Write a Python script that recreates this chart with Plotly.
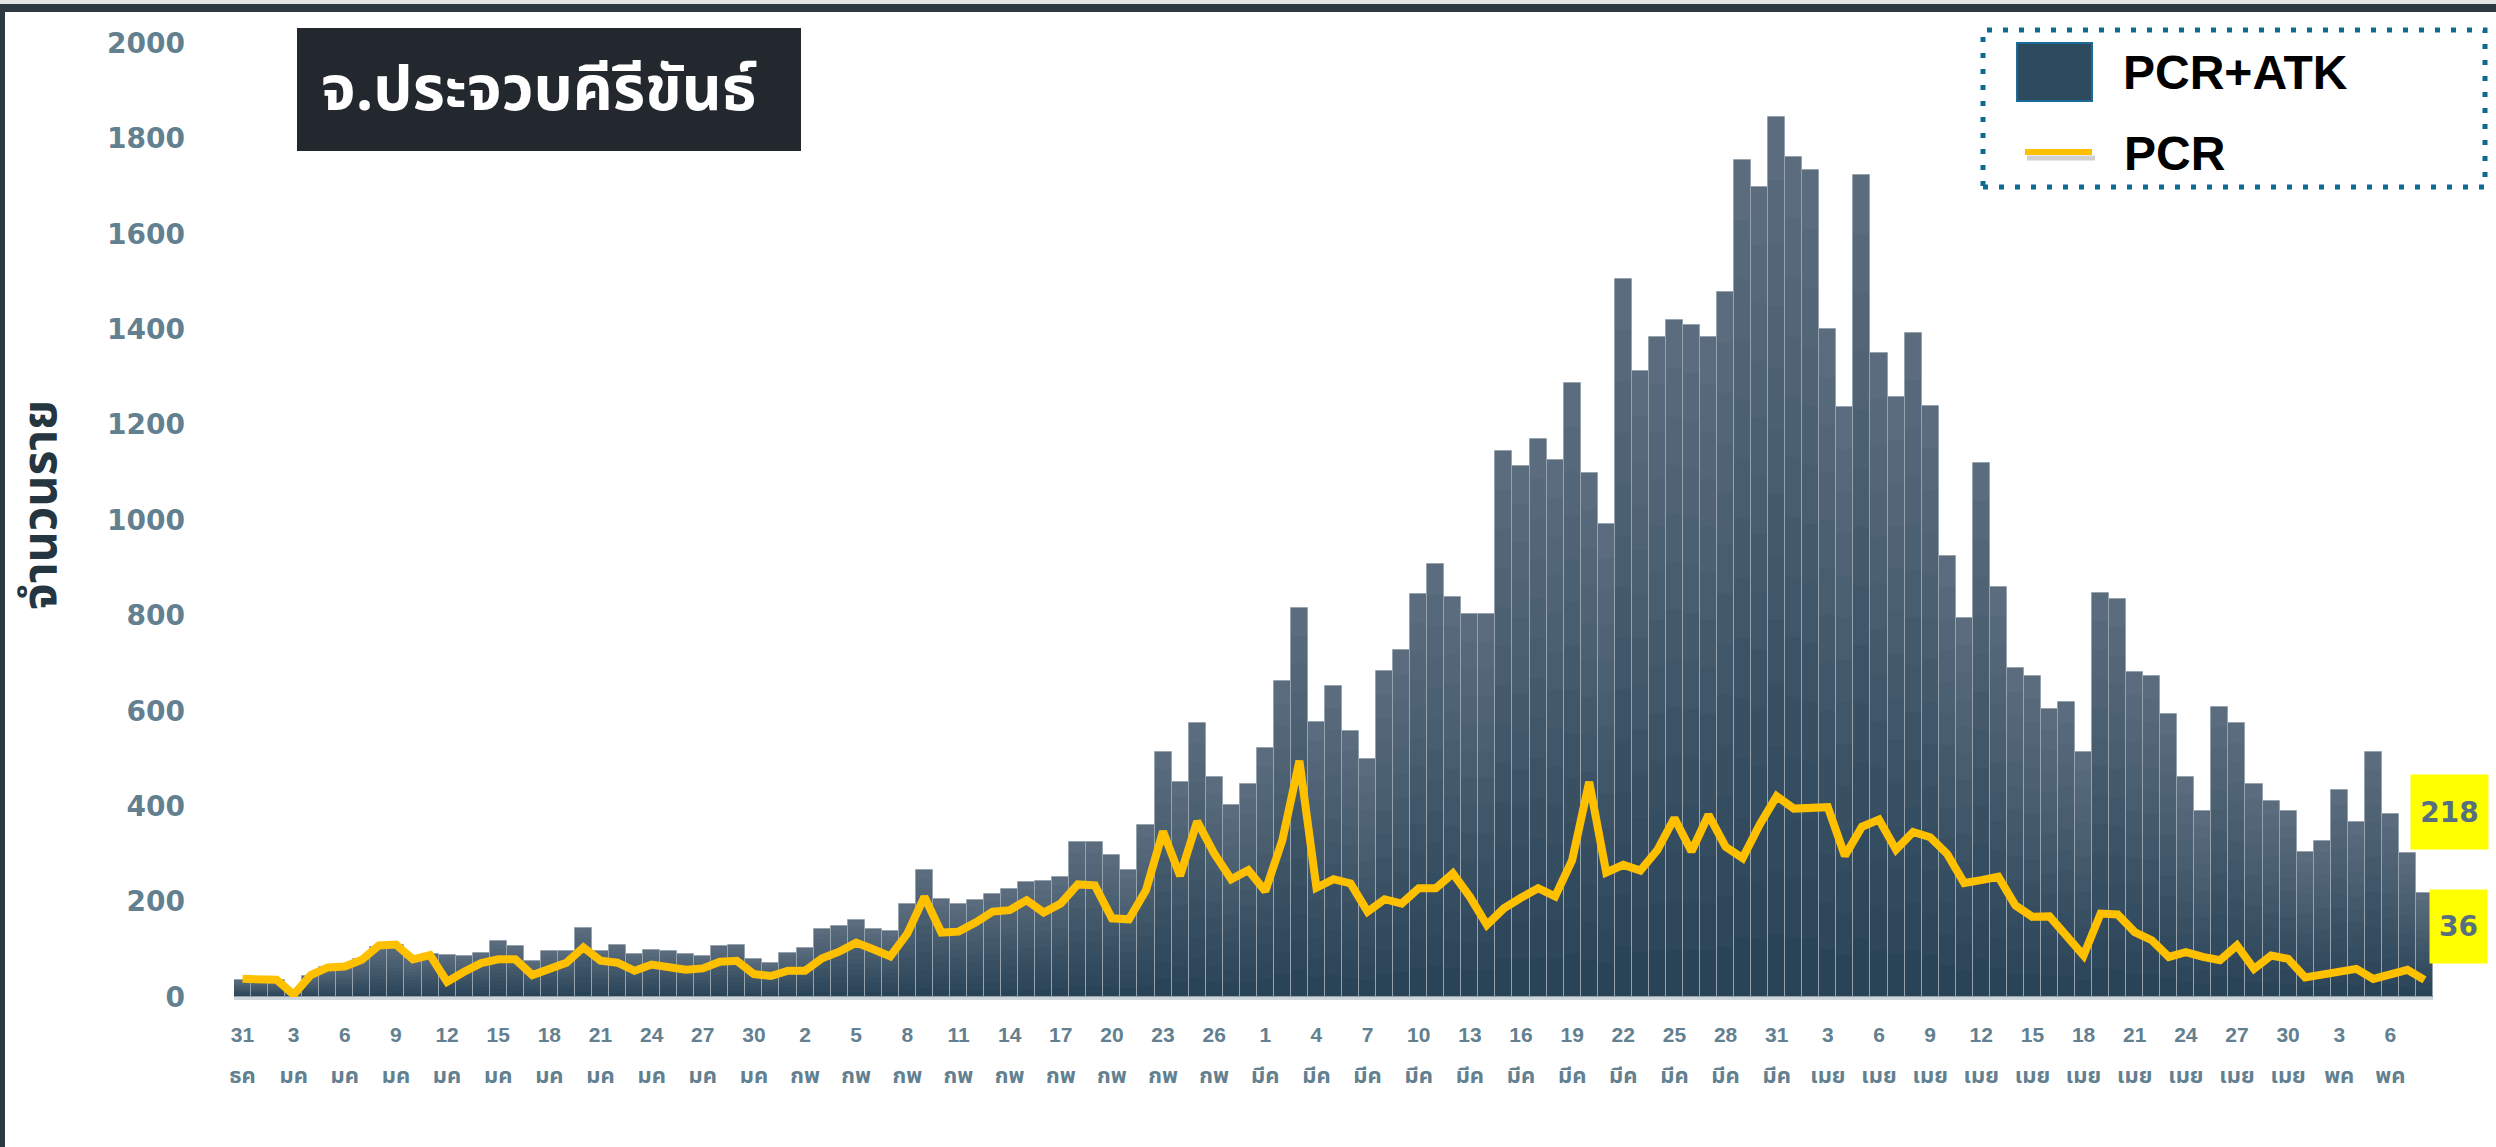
import plotly.graph_objects as go
import pandas as pd

# ---------------- data ----------------
start_date = "2021-12-31"
end_date = "2022-05-08"

pcr_atk = [36, 35, 35, 10, 45, 62, 66, 80, 105, 108,
           82, 90, 88, 86, 93, 118, 107, 76, 97, 97,
           145, 97, 109, 90, 99, 97, 90, 85, 107, 109,
           80, 71, 93, 103, 143, 149, 161, 142, 138, 194,
           266, 205, 196, 204, 216, 226, 241, 243, 252, 325,
           325, 298, 266, 361, 514, 451, 574, 461, 402, 447,
           522, 662, 816, 577, 652, 558, 499, 683, 727, 845,
           908, 838, 803, 803, 1145, 1113, 1170, 1126, 1287, 1099,
           992, 1505, 1312, 1383, 1419, 1409, 1383, 1478, 1755, 1698,
           1845, 1761, 1734, 1400, 1237, 1723, 1350, 1258, 1392, 1239,
           925, 795, 1120, 860, 689, 672, 603, 618, 513, 848,
           835, 681, 672, 593, 461, 389, 609, 574, 446, 410,
           389, 303, 328, 433, 366, 513, 383, 301, 218]

pcr = [38, 36, 36, 5, 46, 62, 64, 78, 108, 110,
       79, 88, 32, 53, 71, 79, 79, 46, 60, 72,
       104, 76, 72, 55, 68, 64, 57, 60, 74, 76,
       48, 44, 55, 55, 81, 95, 114, 100, 85, 133,
       210, 135, 137, 156, 179, 182, 203, 177, 196, 236,
       234, 165, 163, 224, 347, 254, 368, 301, 247, 266,
       222, 329, 495, 229, 247, 238, 179, 205, 196, 228,
       228, 259, 210, 151, 186, 208, 228, 211, 287, 451,
       261, 277, 265, 308, 375, 305, 382, 315, 291, 361,
       421, 395, 398, 398, 296, 357, 372, 309, 346, 335,
       300, 239, 245, 252, 192, 168, 169, 129, 87, 175,
       173, 136, 119, 84, 94, 84, 77, 108, 59, 87,
       80, 41, 48, 51, 59, 38, 49, 57, 36]

thai_months = {12: "ธค", 1: "มค", 2: "กพ", 3: "มีค", 4: "เมย", 5: "พค"}
title_text = "จ.ประจวบคีรีขันธ์"
y_title = "จำนวนราย"
series_names = ["PCR+ATK", "PCR"]
y_ticks = list(range(0, 2001, 200))

dates = pd.date_range(start_date, end_date, freq="D")
tick_dates = dates[::3]
tick_days = [str(d.day) for d in tick_dates]
tick_months = [thai_months[d.month] for d in tick_dates]

# ---------------- style ----------------
W, H = 2496, 1147
L, R, T, B = 234, 2433, 43, 997          # plot area in pixels
def px(X):
    return (X - L) / (R - L)
def py(Y):
    return (B - Y) / (B - T)

THAI = ("Noto Sans Thai, Noto Sans Thai UI, Thonburi, Loma, Garuda, Kinnari, "
        "Norasi, Waree, Sawasdee, Umpush, Tlwg Typo, sans-serif")
NUMF = "DejaVu Sans, Liberation Sans, Arial, sans-serif"
LAB = "Liberation Sans, Arial, " + THAI
TICKC = "#62808f"

def lerp(c1, c2, t):
    a = [int(c1[i:i + 2], 16) for i in (1, 3, 5)]
    b = [int(c2[i:i + 2], 16) for i in (1, 3, 5)]
    return "#" + "".join(f"{round(a[k] + (b[k] - a[k]) * t):02x}" for k in range(3))

fig = go.Figure()

# bars with a per-bar vertical gradient: overlaid bars of decreasing height,
# the full one lightest, the shortest darkest
N = 14
bottom_c, top_c = "#2a4457", "#5a6c7d"
for k in range(N):
    frac = (N - k) / N
    fig.add_trace(go.Bar(
        x=dates, y=[v * frac for v in pcr_atk],
        marker=dict(color=lerp(bottom_c, top_c, (N - 1 - k) / (N - 1)), line=dict(width=0)),
        name=series_names[0], showlegend=False,
        customdata=pcr_atk,
        hovertemplate="%{x|%d %b}: %{customdata}<extra>PCR+ATK</extra>" if k == 0 else None,
        hoverinfo=None if k == 0 else "skip",
    ))
# thin light separators between bars
fig.add_trace(go.Bar(
    x=dates, y=pcr_atk, name=series_names[0], showlegend=False, hoverinfo="skip",
    marker=dict(color="rgba(0,0,0,0)", line=dict(color="#97a3ac", width=1)),
))

fig.add_trace(go.Scatter(
    x=dates, y=pcr, mode="lines", name=series_names[1], showlegend=False,
    line=dict(color="#FFC000", width=8, shape="linear"),
))

# invisible trace for the month row axis
fig.add_trace(go.Scatter(x=tick_dates, y=[0] * len(tick_dates), xaxis="x2",
                         mode="markers", marker=dict(opacity=0), showlegend=False,
                         hoverinfo="skip"))

xr = [dates[0] - pd.Timedelta(hours=12), dates[-1] + pd.Timedelta(hours=12)]

fig.update_layout(
    width=W, height=H,
    margin=dict(l=L, r=W - R, t=T, b=H - B, pad=0),
    paper_bgcolor="#ffffff", plot_bgcolor="#ffffff",
    barmode="overlay", bargap=0,
    xaxis=dict(range=xr, type="date", tickmode="array", tickvals=tick_dates,
               ticktext=tick_days, ticks="", showgrid=False, zeroline=False,
               showline=True, linecolor="#cfd7dd", linewidth=3,
               tickfont=dict(family=LAB, size=21, color=TICKC, weight="bold"),
               ticklabelstandoff=17),
    xaxis2=dict(range=xr, type="date", overlaying="x", side="bottom", anchor="y",
                tickmode="array", tickvals=tick_dates, ticktext=tick_months,
                ticks="", showgrid=False, zeroline=False, showline=False,
                tickfont=dict(family=THAI, size=22, color=TICKC, weight="bold"),
                ticklabelstandoff=63),
    yaxis=dict(range=[0, 2000], tickmode="array", tickvals=y_ticks,
               ticks="", showgrid=False, zeroline=False, showline=False,
               tickfont=dict(family=NUMF, size=28, color=TICKC, weight="bold"),
               ticklabelstandoff=48),
    hovermode="closest",
)

shapes = []
# frame (top band + left band)
shapes.append(dict(type="rect", xref="paper", yref="paper", x0=px(0), x1=px(W),
                   y0=py(4), y1=py(0), fillcolor="#e3e5e6", line=dict(width=0), layer="above"))
shapes.append(dict(type="rect", xref="paper", yref="paper", x0=px(0), x1=px(W),
                   y0=py(12), y1=py(4), fillcolor="#2d3a42", line=dict(width=0), layer="above"))
shapes.append(dict(type="rect", xref="paper", yref="paper", x0=px(0), x1=px(5),
                   y0=py(H), y1=py(4), fillcolor="#2d3a42", line=dict(width=0), layer="above"))
# title box
shapes.append(dict(type="rect", xref="paper", yref="paper", x0=px(297), x1=px(801),
                   y0=py(151), y1=py(28), fillcolor="#22282e", line=dict(width=0), layer="above"))
# legend box
shapes.append(dict(type="rect", xref="paper", yref="paper", x0=px(1983), x1=px(2485),
                   y0=py(187), y1=py(30), fillcolor="rgba(255,255,255,0)",
                   line=dict(color="#0e6a93", width=5, dash="5px,11px"), layer="above"))
shapes.append(dict(type="rect", xref="paper", yref="paper", x0=px(2017), x1=px(2092),
                   y0=py(101), y1=py(43), fillcolor="#2e4a5e",
                   line=dict(color="#1a6b96", width=2), layer="above"))
shapes.append(dict(type="line", xref="paper", yref="paper", x0=px(2027), x1=px(2095),
                   y0=py(158), y1=py(158), line=dict(color="rgba(0,0,0,0.18)", width=5), layer="above"))
shapes.append(dict(type="line", xref="paper", yref="paper", x0=px(2025), x1=px(2092),
                   y0=py(152), y1=py(152), line=dict(color="#FFC000", width=6), layer="above"))
fig.update_layout(shapes=shapes)

ann = []
ann.append(dict(text=title_text, xref="paper", yref="paper", x=px(538), y=py(91),
                xanchor="center", yanchor="middle", showarrow=False,
                font=dict(family=THAI, size=62, color="#ffffff", weight="bold")))
ann.append(dict(text=y_title, xref="paper", yref="paper", x=px(41), y=py(505),
                xanchor="center", yanchor="middle", showarrow=False, textangle=-90,
                font=dict(family=THAI, size=48, color="#263640", weight="bold")))
ann.append(dict(text=series_names[0], xref="paper", yref="paper", x=px(2121), y=py(72),
                xanchor="left", yanchor="middle", showarrow=False,
                font=dict(family="Liberation Sans, Arial", size=48, color="#000000", weight="bold")))
ann.append(dict(text=series_names[1], xref="paper", yref="paper", x=px(2122), y=py(153),
                xanchor="left", yanchor="middle", showarrow=False,
                font=dict(family="Liberation Sans, Arial", size=48, color="#000000", weight="bold")))
# end-value labels
ann.append(dict(text=str(pcr_atk[-1]), xref="x", yref="y", x=dates[-1], y=388, xshift=25,
                showarrow=False, bgcolor="#ffff00", width=77, height=74, borderpad=0,
                xanchor="center", yanchor="middle",
                font=dict(family=NUMF, size=28, color="#56707f", weight="bold")))
ann.append(dict(text=str(pcr[-1]), xref="x", yref="y", x=dates[-1], y=148, xshift=34,
                showarrow=False, bgcolor="#ffff00", width=57, height=73, borderpad=0,
                xanchor="center", yanchor="middle",
                font=dict(family=NUMF, size=28, color="#56707f", weight="bold")))
fig.update_layout(annotations=ann)

fig.write_html("out.html", include_plotlyjs=True, full_html=True,
               config={"displayModeBar": False},
               post_script="document.body.style.margin='0';document.body.style.overflow='hidden';")
